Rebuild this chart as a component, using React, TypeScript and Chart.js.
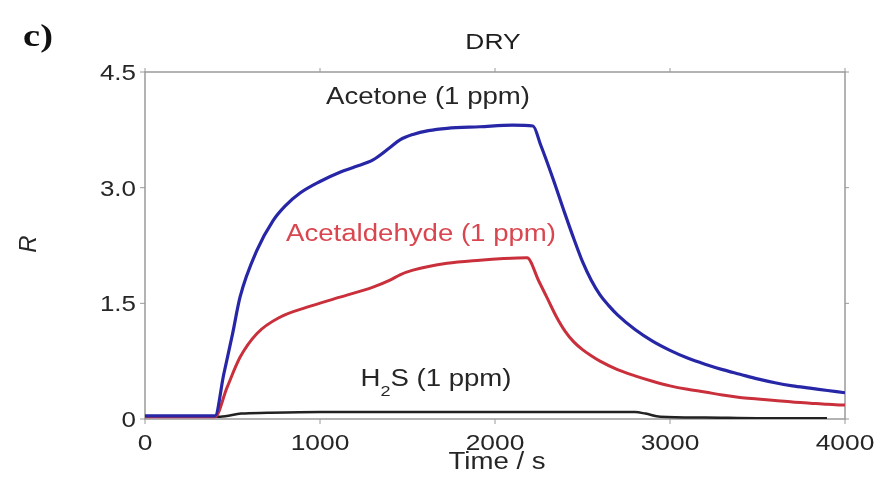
import React, { useEffect, useRef } from "react";
import { Chart, registerables } from "chart.js";

Chart.register(...registerables);

// ---- Data ----
const acetoneT = [0, 200, 400, 450, 500, 543, 640, 731, 800, 886, 1000, 1114, 1200, 1303, 1400, 1457, 1531, 1620, 1726, 1914, 2100, 2217, 2260, 2331, 2400, 2450, 2500, 2550, 2600, 2650, 2700, 2800, 2900, 3000, 3100, 3200, 3300, 3400, 3500, 3600, 3700, 3800, 3900, 4000];
const acetoneR = [0.04, 0.04, 0.04, 0.58, 1.1, 1.58, 2.19, 2.57, 2.76, 2.93, 3.08, 3.2, 3.27, 3.36, 3.52, 3.62, 3.69, 3.74, 3.77, 3.79, 3.81, 3.80, 3.56, 3.12, 2.66, 2.34, 2.04, 1.80, 1.61, 1.47, 1.35, 1.16, 1.01, 0.89, 0.79, 0.71, 0.64, 0.58, 0.52, 0.47, 0.43, 0.40, 0.37, 0.34];

const acetaldehydeT = [0, 200, 400, 469, 543, 640, 771, 926, 1114, 1303, 1400, 1457, 1531, 1726, 1914, 2050, 2183, 2250, 2300, 2350, 2400, 2450, 2500, 2550, 2600, 2700, 2800, 2900, 3000, 3100, 3200, 3300, 3400, 3500, 3600, 3700, 3800, 3900, 4000];
const acetaldehydeR = [0.03, 0.03, 0.03, 0.41, 0.8, 1.11, 1.32, 1.45, 1.58, 1.71, 1.8, 1.87, 1.93, 2.02, 2.06, 2.08, 2.09, 1.79, 1.56, 1.33, 1.14, 1.0, 0.9, 0.82, 0.75, 0.64, 0.56, 0.49, 0.43, 0.385, 0.35, 0.31, 0.28, 0.26, 0.24, 0.22, 0.205, 0.19, 0.18];

const h2sT = [0, 200, 400, 430, 550, 700, 1000, 1500, 2000, 2500, 2800, 2860, 2945, 3200, 3500, 3897];
const h2sR = [0.03, 0.03, 0.03, 0.03, 0.07, 0.08, 0.09, 0.09, 0.09, 0.09, 0.09, 0.07, 0.03, 0.02, 0.01, 0.01];

const xTickValues = [0, 1000, 2000, 3000, 4000];
const xTickLabels = ["0", "1000", "2000", "3000", "4000"];
const yTickValues = [0, 1.5, 3.0, 4.5];
const yTickLabels = ["0", "1.5", "3.0", "4.5"];

const panelLabel = "c)";
const titleText = "DRY";
const xTitle = "Time / s";
const yTitle = "R";
const acetoneLabel = "Acetone (1 ppm)";
const acetaldehydeLabel = "Acetaldehyde (1 ppm)";

const SX = 1.2;
const SANS = '"Liberation Sans", Arial, sans-serif';
const TEXT = "#262626";

function pts(t: number[], r: number[]) {
  return t.map((x, i) => ({ x, y: r[i] }));
}

function txt(
  ctx: CanvasRenderingContext2D,
  s: string,
  x: number,
  y: number,
  font: string,
  color: string,
  align: CanvasTextAlign = "center",
  sx = SX
) {
  ctx.save();
  ctx.translate(x, y);
  ctx.scale(sx, 1);
  ctx.font = font;
  ctx.fillStyle = color;
  ctx.textAlign = align;
  ctx.textBaseline = "middle";
  ctx.fillText(s, 0, 0);
  ctx.restore();
}

const decorPlugin = {
  id: "decor",
  beforeDatasetsDraw(chart: any) {
    const { ctx, chartArea: a, scales } = chart;
    ctx.save();
    ctx.strokeStyle = "#9a9a9a";
    ctx.lineWidth = 1.5;
    ctx.strokeRect(a.left, a.top, a.right - a.left, a.bottom - a.top);
    ctx.lineWidth = 1;
    ctx.beginPath();
    xTickValues.forEach((v) => {
      const px = scales.x.getPixelForValue(v);
      ctx.moveTo(px, a.bottom);
      ctx.lineTo(px, a.bottom + 5);
      ctx.moveTo(px, a.top);
      ctx.lineTo(px, a.top - 4);
    });
    yTickValues.forEach((v) => {
      const py = scales.y.getPixelForValue(v);
      ctx.moveTo(a.left, py);
      ctx.lineTo(a.left - 5, py);
      ctx.moveTo(a.right, py);
      ctx.lineTo(a.right + 4, py);
    });
    ctx.stroke();
    ctx.restore();
  },
  afterDraw(chart: any) {
    const { ctx, chartArea: a, scales } = chart;
    const tickFont = `22px ${SANS}`;
    xTickValues.forEach((v, i) => {
      txt(ctx, xTickLabels[i], scales.x.getPixelForValue(v), a.bottom + 25, tickFont, TEXT);
    });
    yTickValues.forEach((v, i) => {
      txt(ctx, yTickLabels[i], a.left - 9, scales.y.getPixelForValue(v) + 2, tickFont, TEXT, "right", 1.18);
    });
    // panel label
    txt(ctx, panelLabel, 38, 38, `bold 32px "Liberation Serif", "Times New Roman", serif`, "#111", "center", 1.2);
    // title
    txt(ctx, titleText, 493, 43, `22px ${SANS}`, "#1e1e1e");
    // axis titles
    txt(ctx, xTitle, 497, 463, `23px ${SANS}`, TEXT);
    ctx.save();
    ctx.translate(29, 244);
    ctx.rotate(-Math.PI / 2);
    ctx.font = `italic 24px ${SANS}`;
    ctx.fillStyle = TEXT;
    ctx.textAlign = "center";
    ctx.textBaseline = "middle";
    ctx.fillText(yTitle, 0, 0);
    ctx.restore();
    // annotations
    txt(ctx, acetoneLabel, 428, 98, `23px ${SANS}`, TEXT);
    txt(ctx, acetaldehydeLabel, 421, 235, `23px ${SANS}`, "#d9464f");
    // H2S with subscript
    ctx.save();
    const big = `23px ${SANS}`;
    const small = `15px ${SANS}`;
    ctx.font = big;
    const wH = ctx.measureText("H").width * SX;
    const wRest = ctx.measureText("S (1 ppm)").width * SX;
    ctx.font = small;
    const w2 = ctx.measureText("2").width * SX;
    ctx.restore();
    const total = wH + w2 + wRest;
    const x0 = 436 - total / 2;
    txt(ctx, "H", x0, 380, big, TEXT, "left");
    txt(ctx, "2", x0 + wH, 392, small, TEXT, "left");
    txt(ctx, "S (1 ppm)", x0 + wH + w2, 380, big, TEXT, "left");
  },
};

export default function App() {
  const ref = useRef<HTMLCanvasElement | null>(null);
  useEffect(() => {
    if (!ref.current) return;
    const chart = new Chart(ref.current, {
      type: "line",
      data: {
        datasets: [
          {
            label: acetoneLabel,
            data: pts(acetoneT, acetoneR),
            borderColor: "#2626a6",
            borderWidth: 3.2,
            pointRadius: 0,
            cubicInterpolationMode: "monotone",
          },
          {
            label: acetaldehydeLabel,
            data: pts(acetaldehydeT, acetaldehydeR),
            borderColor: "#c9303c",
            borderWidth: 3,
            pointRadius: 0,
            cubicInterpolationMode: "monotone",
          },
          {
            label: "H2S (1 ppm)",
            data: pts(h2sT, h2sR),
            borderColor: "#222",
            borderWidth: 2.5,
            pointRadius: 0,
            cubicInterpolationMode: "monotone",
          },
        ],
      },
      options: {
        animation: false,
        responsive: true,
        maintainAspectRatio: false,
        layout: { padding: { left: 145, right: 37, top: 72, bottom: 62 } },
        plugins: { legend: { display: false }, tooltip: { enabled: false }, title: { display: false } },
        scales: {
          x: { type: "linear", min: 0, max: 4000, display: false },
          y: { type: "linear", min: 0, max: 4.5, display: false },
        },
      },
      plugins: [decorPlugin],
    } as any);
    return () => chart.destroy();
  }, []);
  return (
    <div style={{ position: "fixed", left: 0, top: 0, width: 882, height: 481, background: "#fff" }}>
      <canvas ref={ref} />
    </div>
  );
}
